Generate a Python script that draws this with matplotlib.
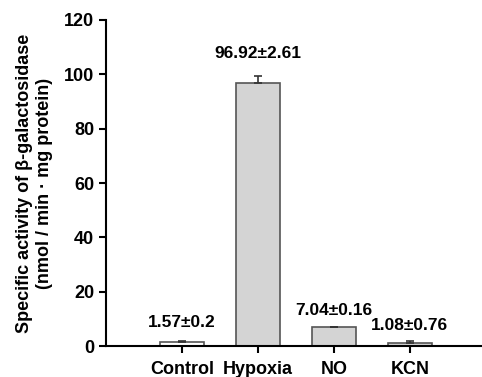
import matplotlib
matplotlib.use("Agg")
import matplotlib.pyplot as plt

groups = ["Control", "Hypoxia", "NO", "KCN"]
means = [1.57, 96.92, 7.04, 1.08]
errors = [0.2, 2.61, 0.16, 0.76]
labels = ["1.57±0.2", "96.92±2.61", "7.04±0.16", "1.08±0.76"]
label_y = [5.8, 104.8, 10.2, 4.8]
fills = ["white", "#d4d4d4", "#d4d4d4", "#d4d4d4"]

plt.rcParams["font.family"] = ["Liberation Sans", "DejaVu Sans"]
plt.rcParams["font.weight"] = "bold"

fig = plt.figure(figsize=(4.82, 3.77), dpi=100)
ax = fig.add_axes([0.22, 0.082, 0.78, 0.865])

x = list(range(len(groups)))
ax.bar(x, means, width=0.58, color=fills, edgecolor="#555555", linewidth=1.2)
ax.errorbar(x, means, yerr=[[0] * len(errors), errors], fmt="none",
            ecolor="#333333", elinewidth=1.2, capsize=3, capthick=1.2)

for xi, txt, yy in zip(x, labels, label_y):
    ax.text(xi, yy, txt, ha="center", va="bottom", fontsize=12.5, fontweight="bold")

ax.set_xlim(-1.0, 3.95)
ax.set_ylim(0, 120)
ax.set_yticks(range(0, 121, 20))
ax.set_xticks(x)
ax.set_xticklabels(groups, fontsize=13, fontweight="bold")
ax.tick_params(axis="y", labelsize=13, width=1.5, length=5)
ax.tick_params(axis="x", width=1.5, length=5, pad=6)
for lab in ax.get_yticklabels():
    lab.set_fontweight("bold")

ax.spines["top"].set_visible(False)
ax.spines["right"].set_visible(False)
ax.spines["left"].set_linewidth(1.5)
ax.spines["bottom"].set_linewidth(1.5)

ax.set_ylabel("Specific activity of β-galactosidase\n(nmol / min · mg protein)",
              fontsize=13, fontweight="bold", labelpad=8)

fig.savefig("out.png", dpi=100)
